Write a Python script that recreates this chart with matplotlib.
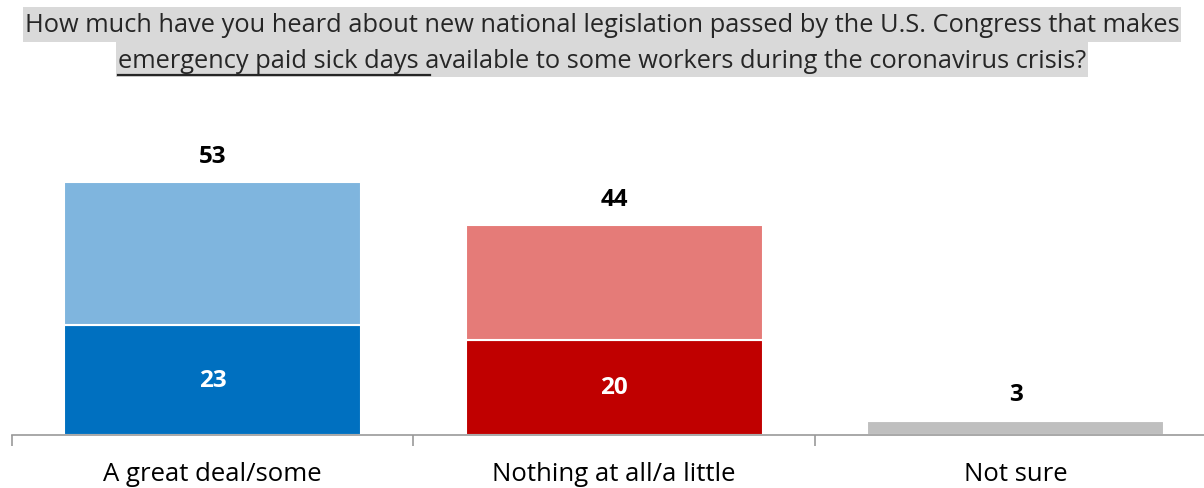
import matplotlib.pyplot as plt
from matplotlib.patches import Rectangle

categories = ["A great deal/some", "Nothing at all/a little", "Not sure"]
bottom_part = [23, 20, 3]          # "a great deal" / "nothing at all" / not sure
top_part = [30, 24, 0]             # "some" / "a little"
totals = [53, 44, 3]
inner_labels = ["23", "20", ""]

bottom_colors = ["#0070C0", "#C00000", "#BFBFBF"]
top_colors = ["#7FB5DE", "#E57B78", "#BFBFBF"]

title_line1 = "How much have you heard about new national legislation passed by the U.S. Congress that makes"
title_under = "emergency paid sick days "
title_rest = "available to some workers during the coronavirus crisis?"

plt.rcParams['font.family'] = ['Open Sans', 'DejaVu Sans']

W, H = 1204, 489
fig = plt.figure(figsize=(W / 100, H / 100), dpi=100)
ax = fig.add_axes([12 / W, 53 / H, 1204.5 / W, 334 / H])

x = range(len(categories))
ax.bar(x, bottom_part, width=0.74, color=bottom_colors, edgecolor="white", linewidth=1.5)
ax.bar(x, top_part, width=0.74, bottom=bottom_part, color=top_colors,
       edgecolor="white", linewidth=1.5)

for i in x:
    ax.annotate(str(totals[i]), (i, totals[i]), xytext=(0, 19), textcoords="offset points",
                ha="center", va="center", fontsize=17.5, fontweight="bold", color="black")
    if inner_labels[i]:
        ax.text(i, bottom_part[i] / 2, inner_labels[i], ha="center", va="center",
                fontsize=17.5, fontweight="bold", color="white")

ax.set_xlim(-0.5, 2.5)
ax.set_ylim(0, 70)
for s in ["top", "right", "left"]:
    ax.spines[s].set_visible(False)
ax.spines["bottom"].set_color("#999999")
ax.spines["bottom"].set_linewidth(1.2)
ax.set_yticks([])
ax.set_xticks([-0.5, 0.5, 1.5, 2.5])
ax.set_xticklabels([])
ax.tick_params(axis="x", direction="out", length=8, color="#999999", width=1.2)
for i, c in enumerate(categories):
    ax.text(i, -0.115, c, transform=ax.get_xaxis_transform(), ha="center", va="center",
            fontsize=18.5, color="black")

# two-line question on grey highlight, first phrase of line two underlined
tsize = 18.3
tcolor = "#262626"
t1 = fig.text(0.5, 1 - 26 / H, title_line1, ha="center", va="center", fontsize=tsize,
              color=tcolor, zorder=3)
t2 = fig.text(0.5, 1 - 61 / H, title_under + title_rest, ha="center", va="center",
              fontsize=tsize, color=tcolor, zorder=3)

fig.canvas.draw()
r = fig.canvas.get_renderer()
for t, (y0, y1) in [(t1, (8, 43)), (t2, (43, 78))]:
    e = t.get_window_extent(r)
    fig.add_artist(Rectangle((e.x0 - 2, H - y1), e.width + 4, y1 - y0,
                             transform=None, facecolor="#D9D9D9", edgecolor="none",
                             zorder=1))

e2 = t2.get_window_extent(r)
probe = fig.text(0, 0, title_under.rstrip() + "_", fontsize=tsize)
pw = probe.get_window_extent(r).width
probe.remove()
uy = H - 76
fig.add_artist(plt.Line2D([e2.x0, e2.x0 + pw], [uy, uy], color=tcolor, linewidth=1.6,
                          transform=None, zorder=4))

fig.savefig("out.png", dpi=100)
